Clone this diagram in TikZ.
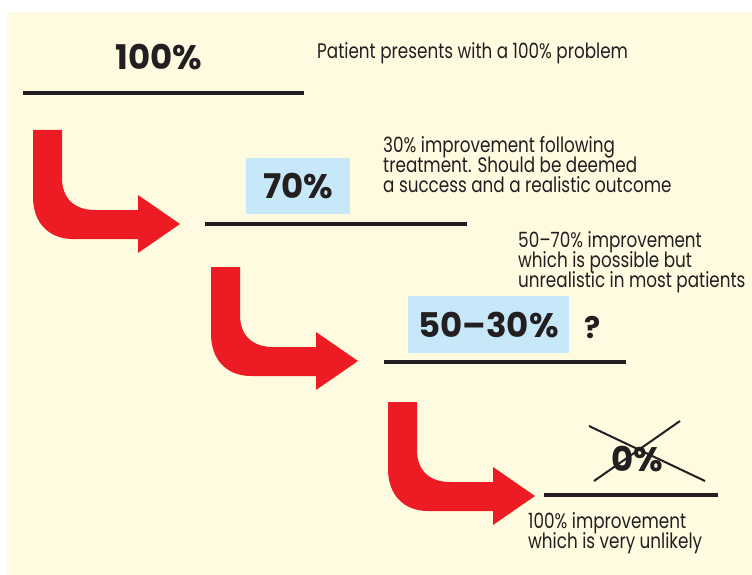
\documentclass[tikz,border=0pt]{standalone}
\usepackage{fontspec}
\setmainfont{Poppins}
\newfontfamily\notefont[FakeStretch=0.8]{Poppins}

\definecolor{paper}{RGB}{255,251,225}
\definecolor{sky}{RGB}{198,232,248}
\definecolor{arrowred}{RGB}{237,28,36}
\definecolor{ink}{RGB}{35,31,32}

\begin{document}
\begin{tikzpicture}[x = 1pt, y = -1pt]
\tikzstyle{StepLine} = [line width = 4.5pt, draw = ink]
\tikzstyle{CrossLine} = [line width = 2pt, draw = ink]
\tikzstyle{ValueStyle} = [font = \bfseries\fontsize{34}{34}\selectfont, text = ink, inner sep = 0pt]
\tikzstyle{BoxStyle} = [ValueStyle, fill = sky]
\tikzstyle{NoteStyle} = [font = {\notefont\fontsize{21}{20}\selectfont\lineskiplimit=-20pt\relax}, text = ink, align = left, inner sep = 0pt]
\tikzstyle{BentArrow} = [fill = arrowred]
\useasboundingbox (0,0) rectangle (752,575);
\fill[paper] (7,12) rectangle (752,575);
% the four levels
\draw[StepLine] (23,93) -- (304,93);
\draw[StepLine] (205,224) -- (467,224);
\draw[StepLine] (384,362) -- (626,362);
\draw[StepLine] (544,495) -- (718,495);
\node[ValueStyle] (v100) at (159,57.5) {100\%};
\node[BoxStyle, minimum width = 104pt, minimum height = 56pt] (v70) at (298,186) {70\%};
\node[BoxStyle, minimum width = 161pt, minimum height = 57pt] (v50) at (488.5,324.5) {50–30\%};
\node[ValueStyle, font = \bfseries\fontsize{30}{30}\selectfont] (vq) at (593,327.5) {?};
\node[ValueStyle] (v0) at (637,459) {0\%};
\draw[CrossLine] (589,426) -- (705,481);
\draw[CrossLine] (594,481) -- (680,421);
% bent arrows
\foreach \dx/\dy in {0/0, 178/137, 355/272}
  \fill[BentArrow, shift = {(\dx,\dy)}] (33,130) -- (62,130) -- (62,178)
    .. controls (62,198) and (74,210) .. (95,210) -- (138,210) -- (138,195)
    -- (180,224) -- (138,253) -- (138,239) -- (73,239)
    .. controls (48,239) and (33,222) .. (33,197) -- cycle;
% notes
\node[NoteStyle, anchor = base west] (n100) at (317,59) {Patient presents with a 100\% problem};
\node[NoteStyle, anchor = north west] (n70) at (383,136.5) {30\% improvement following\\treatment. Should be deemed\\a success and a realistic outcome};
\node[NoteStyle, anchor = north west] (n50) at (518,231.5) {50–70\% improvement\\which is possible but\\unrealistic in most patients};
\node[NoteStyle, anchor = north west] (n0) at (528,512.5) {100\% improvement\\which is very unlikely};
\end{tikzpicture}
\end{document}
